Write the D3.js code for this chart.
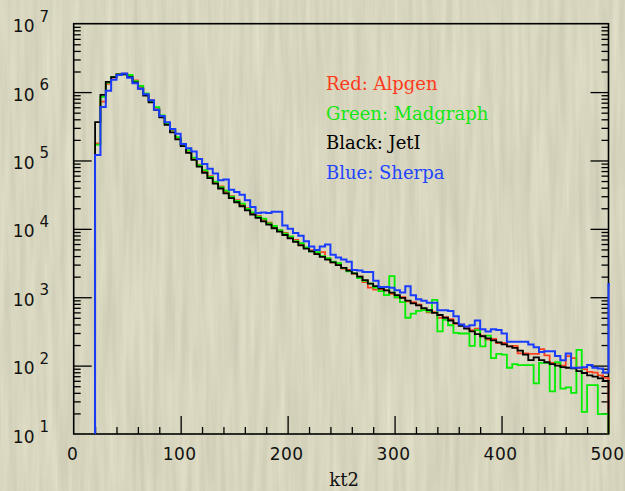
<!DOCTYPE html>
<html>
<head>
<meta charset="utf-8">
<script src="https://cdn.jsdelivr.net/npm/d3@7"></script>
<style>
  html, body { margin: 0; padding: 0; background: #d6d4bd; }
  svg { display: block; }
</style>
</head>
<body>
<svg id="chart" width="625" height="491"></svg>
<script>
// kt2 distributions, 5-unit bins starting at kt2 = 20
const binLow = 20;
const binWidth = 5;

const alpgen = [
  178000, 724000, 1318000, 1622000, 1820000, 1862000, 1738000, 1479000, 1202000, 933000,
  759000, 589000, 447000, 355000, 275000, 214000, 174000, 138000, 107000, 87100,
  69200, 58900, 47900, 41700, 34700, 30200, 26300, 22400, 20000, 17000,
  15500, 13500, 12300, 10700, 9550, 8710, 7410, 6920, 6030, 5250,
  4900, 4370, 4570, 3720, 3240, 3090, 2630, 2510, 2190, 2000,
  1660, 1380, 1290, 1290, 1260, 1120, 1000, 1000, 871, 851,
  776, 661, 603, 603, 501, 513, 479, 407, 398, 355,
  331, 347, 275, 240, 245, 214, 214, 191, 195, 151,
  151, 148, 148, 174, 141, 110, 110, 100, 138, 129,
  93, 89, 81, 79, 72, 66
];

const madgraph = [
  170000, 851000, 1380000, 1660000, 1820000, 1820000, 1778000, 1445000, 1230000, 955000,
  741000, 603000, 457000, 347000, 282000, 219000, 170000, 141000, 110000, 85100,
  72400, 57500, 49000, 40700, 36300, 29500, 25700, 23400, 19500, 17400,
  15100, 14100, 12000, 11000, 9550, 8510, 7760, 6610, 6170, 5370,
  4680, 4570, 3980, 3720, 3310, 3160, 2690, 2400, 2240, 1910,
  1740, 1580, 1380, 1230, 1070, 2040, 1000, 851, 501, 575,
  631, 646, 617, 912, 316, 468, 389, 302, 295, 295,
  195, 331, 191, 275, 129, 148, 145, 93, 105, 102,
  102, 102, 55, 110, 110, 42, 112, 46, 48, 40,
  170, 21, 52, 52, 19.5, 19.5
];

const jetI = [
  363000, 912000, 1413000, 1660000, 1820000, 1820000, 1660000, 1380000, 1122000, 891000,
  708000, 550000, 427000, 331000, 257000, 204000, 162000, 129000, 102000, 81300,
  66100, 55000, 45700, 38900, 33100, 28200, 24500, 21400, 18600, 16200,
  14500, 12900, 11500, 10200, 9120, 8130, 7240, 6460, 5750, 5130,
  4680, 4270, 3890, 3550, 3240, 2950, 2690, 2450, 2240, 2000,
  1780, 1580, 1450, 1350, 1260, 1170, 1070, 977, 891, 813,
  759, 692, 646, 589, 550, 501, 457, 417, 380, 347,
  316, 288, 269, 251, 234, 219, 204, 191, 182, 166,
  145, 120, 132, 120, 112, 105, 100, 95, 93, 91,
  83, 78, 72, 69, 65, 60
];

const sherpa = [
  120000, 603000, 1047000, 1514000, 1778000, 1862000, 1622000, 1349000, 1122000, 933000,
  759000, 550000, 447000, 363000, 288000, 245000, 174000, 151000, 135000, 105000,
  89100, 75900, 64600, 51300, 52500, 37200, 34700, 31600, 26300, 20900,
  17000, 17400, 17000, 17800, 17800, 11200, 10000, 8710, 7940, 6610,
  5500, 4900, 5500, 5890, 4170, 3800, 3550, 3310, 2510, 2450,
  2340, 2340, 1740, 1410, 1410, 1380, 1260, 1170, 1450, 1070,
  933, 891, 832, 832, 646, 646, 631, 525, 398, 372,
  389, 457, 339, 316, 339, 331, 295, 224, 224, 224,
  224, 204, 186, 158, 162, 162, 138, 120, 151, 93,
  93, 95, 102, 93, 91, 79
];

// content of the bin just past the upper edge (drawn, then clipped)
const overflowCounts = [0, 0, 0, 1550];

const seriesData = [alpgen, madgraph, jetI, sherpa];
const legendLabels = ["Red: Alpgen", "Green: Madgraph", "Black: JetI", "Blue: Sherpa"];
const xTickValues = [0, 100, 200, 300, 400, 500];
const yExponents = [1, 2, 3, 4, 5, 6, 7];
const xLabel = "kt2";

// ---- styling ----
const lineColors = ["#ff4020", "#00ee00", "#000000", "#1a3cff"];
const textColors = ["#ff3a1c", "#14e614", "#000000", "#2244ff"];
const drawOrder = [0, 1, 2, 3];

const svg = d3.select("#chart");
const W = 625, H = 491;
const plot = { left: 73.7, right: 608.5, top: 23.7, bottom: 434 };

const x = d3.scaleLinear().domain([0, 500]).range([plot.left, plot.right]);
const y = d3.scaleLog().domain([10, 1e7]).range([plot.bottom, plot.top]);

// paper-like background with fine vertical grain
const defs = svg.append("defs");
const paper = defs.append("filter")
  .attr("id", "paper").attr("filterUnits", "userSpaceOnUse")
  .attr("color-interpolation-filters", "sRGB")
  .attr("x", 0).attr("y", 0).attr("width", W).attr("height", H);
paper.append("feTurbulence")
  .attr("type", "fractalNoise").attr("baseFrequency", "0.15 0.008")
  .attr("numOctaves", 3).attr("seed", 7);
paper.append("feColorMatrix").attr("type", "matrix")
  .attr("values", "0.11 0 0 0 0.79  0.11 0 0 0 0.782  0.10 0 0 0 0.695  0 0 0 0 1");

svg.append("rect").attr("width", W).attr("height", H)
  .attr("fill", "#d6d4bd").attr("filter", "url(#paper)");

defs.append("clipPath").attr("id", "plotClip")
  .append("rect")
  .attr("x", plot.left).attr("y", plot.top)
  .attr("width", plot.right - plot.left + 1.5).attr("height", plot.bottom - plot.top);

// ---- frame and ticks ----
const gAxes = svg.append("g").attr("stroke", "#000").attr("fill", "none");
gAxes.append("rect")
  .attr("x", plot.left).attr("y", plot.top)
  .attr("width", plot.right - plot.left).attr("height", plot.bottom - plot.top)
  .attr("stroke-width", 1.6);

const xMinor = d3.range(0, 501, 20).filter(v => v % 100 !== 0);
const xMajor = xTickValues.filter(v => v > 0 && v < 500);

svg.append("g").attr("transform", `translate(0,${plot.bottom})`)
  .call(d3.axisBottom(x).tickValues(xMinor).tickSizeInner(-7).tickSizeOuter(0).tickFormat(""))
  .call(g => g.select(".domain").remove())
  .call(g => g.selectAll("line").attr("stroke-width", 1.3));
svg.append("g").attr("transform", `translate(0,${plot.bottom})`)
  .call(d3.axisBottom(x).tickValues(xMajor).tickSizeInner(-18).tickSizeOuter(0).tickFormat(""))
  .call(g => g.select(".domain").remove())
  .call(g => g.selectAll("line").attr("stroke-width", 1.3));

const yMajorVals = yExponents.map(e => Math.pow(10, e));
const yMinorVals = [];
yExponents.slice(0, -1).forEach(e => {
  for (let k = 2; k <= 9; k++) yMinorVals.push(k * Math.pow(10, e));
});

[[d3.axisLeft, plot.left], [d3.axisRight, plot.right]].forEach(([ax, pos]) => {
  svg.append("g").attr("transform", `translate(${pos},0)`)
    .call(ax(y).tickValues(yMinorVals).tickSizeInner(-7).tickSizeOuter(0).tickFormat(""))
    .call(g => g.select(".domain").remove())
    .call(g => g.selectAll("line").attr("stroke-width", 1.3));
  svg.append("g").attr("transform", `translate(${pos},0)`)
    .call(ax(y).tickValues(yMajorVals.slice(1, -1)).tickSizeInner(-18).tickSizeOuter(0).tickFormat(""))
    .call(g => g.select(".domain").remove())
    .call(g => g.selectAll("line").attr("stroke-width", 1.3));
});

// ---- histograms (drawn over the frame) ----
const yOf = v => v > 0 ? y(v) : plot.bottom + 10;
const line = d3.line()
  .x(d => x(d.x))
  .y(d => yOf(d.v))
  .curve(d3.curveStepAfter);

function histPoints(counts, over) {
  const pts = [{ x: binLow, v: 0 }];
  counts.forEach((v, i) => pts.push({ x: binLow + i * binWidth, v }));
  const end = binLow + counts.length * binWidth;
  pts.push({ x: end, v: over });
  pts.push({ x: end + binWidth, v: over });
  return pts;
}

const gHist = svg.append("g").attr("clip-path", "url(#plotClip)");
drawOrder.forEach(i => {
  gHist.append("path")
    .attr("d", line(histPoints(seriesData[i], overflowCounts[i])))
    .attr("fill", "none")
    .attr("stroke", lineColors[i])
    .attr("stroke-width", i === 3 ? 2 : 1.8)
    .attr("stroke-linejoin", "miter");
});

// ---- tick labels ----
const gXLab = svg.append("g")
  .attr("font-family", "'DejaVu Sans', sans-serif").attr("font-size", 17)
  .attr("letter-spacing", 0.5).attr("fill", "#111").attr("text-anchor", "middle");
xTickValues.forEach(v => {
  gXLab.append("text").attr("x", x(v) - 1).attr("y", 459.5).text(v);
});

const gYLab = svg.append("g")
  .attr("font-family", "'DejaVu Sans', sans-serif").attr("fill", "#111");
yExponents.forEach(e => {
  const yy = y(Math.pow(10, e));
  gYLab.append("text").attr("x", 34.5).attr("y", yy + 8.5)
    .attr("text-anchor", "end").attr("font-size", 17).text("10");
  gYLab.append("text").attr("x", 39.5).attr("y", yy - 2)
    .attr("font-size", 15).text(e);
});

// ---- axis title ----
svg.append("text")
  .attr("x", x(500 * 0.5) + 3).attr("y", 486)
  .attr("text-anchor", "middle")
  .attr("font-family", "'DejaVu Serif', serif").attr("font-size", 18)
  .attr("fill", "#111").text(xLabel);

// ---- legend ----
const gLeg = svg.append("g")
  .attr("font-family", "'DejaVu Serif', serif").attr("font-size", 18);
legendLabels.forEach((t, i) => {
  gLeg.append("text").attr("x", 326).attr("y", 90 + i * 29.5)
    .attr("fill", textColors[i]).text(t);
});
</script>
</body>
</html>
